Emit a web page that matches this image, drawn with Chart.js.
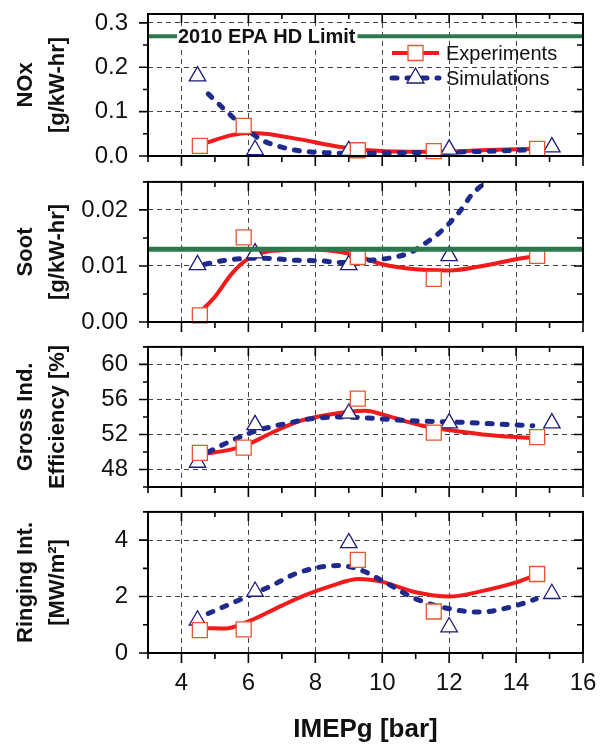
<!DOCTYPE html>
<html>
<head>
<meta charset="utf-8">
<script src="https://cdn.jsdelivr.net/npm/chart.js@4.4.0/dist/chart.umd.min.js"></script>
<style>
  body { margin: 0; background: #fff; }
  #wrap { position: relative; width: 614px; height: 756px; }
  canvas { position: absolute; left: 0; }
</style>
</head>
<body>
<div id="wrap">
  <canvas id="nox" width="614" height="170" style="top:0px"></canvas>
  <canvas id="soot" width="614" height="165" style="top:170px"></canvas>
  <canvas id="eff" width="614" height="165" style="top:335px"></canvas>
  <canvas id="ring" width="614" height="256" style="top:500px"></canvas>
</div>
<script>
// shared x axis (IMEPg, bar)
var xTicks = [4, 6, 8, 10, 12, 14, 16];
var xMinor = [3, 5, 7, 9, 11, 13, 15];
var expX = [4.55, 5.86, 9.27, 11.54, 14.63];
var simX = [4.48, 6.2, 9.0, 12.0, 15.07];

// NOx [g/kW-hr]
var noxTicks = [0, 0.1, 0.2, 0.3];
var noxLabels = ['0.0', '0.1', '0.2', '0.3'];
var noxMinor = [0.05, 0.15, 0.25];
var noxExp = [0.023, 0.068, 0.013, 0.011, 0.016];
var noxSim = [0.18, 0.014, 0.012, 0.015, 0.02];
var noxExpFitX = [4.7, 5.5, 6, 6.5, 7.5, 8.7, 9.5, 10.7, 11.7, 13.2, 14.4];
var noxExpFit = [0.029, 0.047, 0.052, 0.05, 0.038, 0.021, 0.0135, 0.0098, 0.0098, 0.0135, 0.0158];
var noxSimFitX = [4.8, 5.3, 5.9, 6.4, 7.0, 7.5, 8.3, 9.5, 10.7, 12.7, 14.2, 14.8];
var noxSimFit = [0.14, 0.104, 0.063, 0.036, 0.02, 0.012, 0.0075, 0.006, 0.0075, 0.0098, 0.0135, 0.015];
var noxLimit = 0.27;

// Soot [g/kW-hr]
var sootTicks = [0, 0.01, 0.02];
var sootLabels = ['0.00', '0.01', '0.02'];
var sootMinor = [0.005, 0.015, 0.025];
var sootExp = [0.0012, 0.0151, 0.0116, 0.0077, 0.0118];
var sootSimX = [4.48, 6.2, 9.0, 12.0];
var sootSim = [0.0102, 0.0123, 0.0102, 0.0118];
var sootExpFitX = [4.6, 5, 5.5, 6, 6.5, 7, 7.7, 9.1, 10, 11, 12, 13, 14, 14.6];
var sootExpFit = [0.002, 0.0045, 0.0086, 0.0113, 0.0125, 0.0128, 0.013, 0.0121, 0.0103, 0.0094, 0.0092, 0.0100, 0.0112, 0.0118];
var sootSimFitX = [4.7, 5.3, 6.3, 7.5, 8.2, 8.7, 9.6, 10.2, 10.8, 11.3, 11.8, 12.3, 12.7, 13.0];
var sootSimFit = [0.0103, 0.011, 0.0114, 0.011, 0.0109, 0.0106, 0.011, 0.0114, 0.0123, 0.0141, 0.0164, 0.0196, 0.0229, 0.0245];
var sootLimit = 0.013;

// Gross indicated efficiency [%]
var effTicks = [48, 52, 56, 60];
var effLabels = ['48', '52', '56', '60'];
var effMinor = [46, 50, 54, 58, 62];
var effExp = [49.9, 50.5, 56.1, 52.2, 51.7];
var effSim = [48.8, 53.1, 54.4, 53.3, 53.3];
var effExpFitX = [4.7, 5.5, 6, 6.7, 7.5, 8.3, 9, 9.5, 10, 10.7, 11.2, 12, 13, 14, 14.5];
var effExpFit = [49.8, 50.3, 50.9, 52.2, 53.5, 54.2, 54.6, 54.7, 54.3, 53.5, 53.0, 52.5, 52.0, 51.7, 51.6];
var effSimFitX = [4.8, 5.5, 6, 6.7, 7.2, 7.7, 8.7, 9.7, 10.7, 12.3, 13.4, 14.5];
var effSimFit = [50.0, 51.3, 52.1, 52.9, 53.3, 53.7, 54.0, 53.85, 53.6, 53.4, 53.2, 53.0];

// Ringing intensity [MW/m2]
var ringTicks = [0, 2, 4];
var ringLabels = ['0', '2', '4'];
var ringMinor = [1, 3, 5];
var ringExp = [0.81, 0.84, 3.3, 1.47, 2.8];
var ringSim = [1.16, 2.18, 3.9, 0.92, 2.1];
var ringExpFitX = [4.7, 5.3, 6, 7, 7.7, 8.5, 9.3, 10, 11, 12, 13, 14, 14.5];
var ringExpFit = [0.88, 0.87, 1.12, 1.68, 2.05, 2.39, 2.62, 2.52, 2.15, 2.0, 2.2, 2.5, 2.72];
var ringSimFitX = [4.8, 5.5, 6.7, 7.5, 8.7, 9.3, 10, 11, 12, 12.9, 14, 14.6];
var ringSimFit = [1.4, 1.76, 2.39, 2.85, 3.1, 2.97, 2.56, 1.92, 1.57, 1.45, 1.68, 1.92];

var RED = '#f21a1a', SQ = '#e4572e', BLUE = '#1e2a8c', TRI = '#1c1c7a', GREEN = '#2b7a4f';
var FONT = "'Liberation Sans', Arial, Helvetica, sans-serif";
Chart.defaults.font.family = FONT;
Chart.defaults.color = '#111';

function pts(xs, ys) {
  return xs.map(function(x, i) { return {x: x, y: ys[i]}; });
}

/* frame box + tick marks (outward left/bottom, inward top/right) */
var framePlugin = {
  id: 'frame',
  afterDraw: function(chart) {
    var o = chart.options.plugins.frame;
    var ctx = chart.ctx, a = chart.chartArea;
    var xs = chart.scales.x, ys = chart.scales.y;
    ctx.save();
    ctx.strokeStyle = '#000';
    ctx.lineWidth = 1.6;
    ctx.beginPath();
    xTicks.concat(xMinor).forEach(function(v) {
      var px = xs.getPixelForValue(v), major = xTicks.indexOf(v) >= 0;
      ctx.moveTo(px, a.bottom); ctx.lineTo(px, a.bottom + (major ? 10 : 6));
      ctx.moveTo(px, a.top); ctx.lineTo(px, a.top + (major ? 9 : 5));
    });
    o.major.concat(o.minor).forEach(function(v) {
      var py = ys.getPixelForValue(v), major = o.major.indexOf(v) >= 0;
      ctx.moveTo(a.left, py); ctx.lineTo(a.left - (major ? 9 : 5), py);
      ctx.moveTo(a.right, py); ctx.lineTo(a.right - (major ? 9 : 6), py);
    });
    ctx.stroke();
    ctx.lineWidth = 2;
    ctx.strokeRect(a.left, a.top, a.right - a.left, a.bottom - a.top);
    ctx.restore();
  }
};

/* legend and the EPA limit label, only on the NOx panel */
var notesPlugin = {
  id: 'notes',
  afterDatasetsDraw: function(chart) {
    var o = chart.options.plugins.notes;
    if (!o || !o.show) return;
    var ctx = chart.ctx, a = chart.chartArea, ys = chart.scales.y;
    ctx.save();
    // 2010 EPA HD Limit
    ctx.font = 'bold 20px ' + FONT;
    var txt = '2010 EPA HD Limit', tx = a.left + 30, ty = ys.getPixelForValue(noxLimit);
    var tw = ctx.measureText(txt).width;
    ctx.fillStyle = '#fff';
    ctx.fillRect(tx - 1, ty - 10, tw + 3, 20);
    ctx.fillStyle = '#111';
    ctx.textBaseline = 'middle';
    ctx.fillText(txt, tx, ty + 1);

    // legend
    var x0 = a.right - 193;
    ctx.font = '20px ' + FONT;
    o.items.forEach(function(it, i) {
      var y = a.top + 39 + i * 25;
      ctx.strokeStyle = it.color;
      ctx.lineWidth = it.width;
      ctx.lineCap = it.dash ? 'round' : 'butt';
      ctx.setLineDash(it.dash || []);
      ctx.beginPath(); ctx.moveTo(x0 + 2, y); ctx.lineTo(x0 + 49, y); ctx.stroke();
      ctx.setLineDash([]);
      ctx.fillStyle = '#fff';
      ctx.strokeStyle = it.mark;
      ctx.lineWidth = 1.3;
      ctx.beginPath();
      if (it.style == 'rect') {
        ctx.rect(x0 + 18, y - 7.5, 15, 15);
      } else {
        ctx.moveTo(x0 + 25.5, y - 10);
        ctx.lineTo(x0 + 25.5 + 8.5, y + 5);
        ctx.lineTo(x0 + 25.5 - 8.5, y + 5);
        ctx.closePath();
      }
      ctx.fill(); ctx.stroke();
      ctx.fillStyle = '#111';
      ctx.fillText(it.label, x0 + 56, y + 1);
    });
    ctx.restore();
  }
};

function makePanel(o) {
  var datasets = [
    {label: 'Exp fit', data: pts(o.expFitX, o.expFit), showLine: true, pointRadius: 0,
     borderColor: RED, borderWidth: 4, cubicInterpolationMode: 'monotone', order: 3},
    {label: 'Sim fit', data: pts(o.simFitX, o.simFit), showLine: true, pointRadius: 0,
     borderColor: BLUE, borderWidth: 5, borderDash: [5, 10], borderCapStyle: 'round',
     cubicInterpolationMode: 'monotone', order: 2},
    {label: 'Experiments', data: pts(expX, o.exp), pointStyle: 'rect', pointRadius: 10.6,
     pointBorderColor: SQ, pointBackgroundColor: '#fff', pointBorderWidth: 1.3, clip: false, order: 1},
    {label: 'Simulations', data: pts(o.simX || simX, o.sim), pointStyle: 'triangle', pointRadius: 9.5,
     pointBorderColor: TRI, pointBackgroundColor: '#fff', pointBorderWidth: 1.3, clip: false, order: 1}
  ];
  if (o.limit !== undefined) {
    datasets.push({label: 'Limit', data: pts([3, 16], [o.limit, o.limit]), showLine: true, pointRadius: 0,
      borderColor: GREEN, borderWidth: o.limitWidth, order: 0});
  }

  return new Chart(document.getElementById(o.id), {
    type: 'scatter',
    data: {datasets: datasets},
    options: {
      responsive: false,
      animation: false,
      events: [],
      layout: {padding: {top: o.padTop, right: 31, bottom: 0, left: 0}},
      plugins: {
        legend: {display: false},
        tooltip: {enabled: false},
        frame: {major: o.ticks, minor: o.minor},
        notes: {show: !!o.legend, items: o.legend || []}
      },
      scales: {
        x: {
          type: 'linear', min: 3, max: 16,
          afterBuildTicks: function(s) { s.ticks = xTicks.map(function(v) { return {value: v}; }); },
          afterFit: function(s) { s.height = o.xHeight; s.paddingLeft = 0; s.paddingRight = 0; },
          grid: {color: '#444', lineWidth: 1, drawTicks: false},
          border: {display: false, dash: [5, 4]},
          ticks: {display: !!o.showX, font: {size: 24}, color: '#111', padding: 16, maxRotation: 0},
          title: {display: !!o.showX, text: 'IMEPg [bar]', color: '#111',
                  font: {size: 26, weight: 'bold'}, padding: {top: 0, bottom: 11}}
        },
        y: {
          type: 'linear', min: o.min, max: o.max,
          afterBuildTicks: function(s) { s.ticks = o.ticks.map(function(v) { return {value: v}; }); },
          afterFit: function(s) { s.width = 148; s.paddingTop = 0; s.paddingBottom = 0; },
          grid: {color: '#444', lineWidth: 1, drawTicks: false},
          border: {display: false, dash: [5, 4]},
          ticks: {font: {size: 24}, color: '#111', padding: 20,
                  callback: function(v, i) { return o.labels[i]; }},
          title: {display: true, text: o.title, color: '#111',
                  font: {size: 22, weight: 'bold', lineHeight: 1.45}, padding: {top: 10, bottom: 0}}
        }
      }
    },
    plugins: [notesPlugin, framePlugin]
  });
}

makePanel({
  id: 'nox', padTop: 14, xHeight: 14, min: 0, max: 0.32,
  ticks: noxTicks, labels: noxLabels, minor: noxMinor, title: ['NOx', '[g/kW-hr]'],
  exp: noxExp, sim: noxSim, expFitX: noxExpFitX, expFit: noxExpFit, simFitX: noxSimFitX, simFit: noxSimFit,
  limit: noxLimit, limitWidth: 4,
  legend: [
    {label: 'Experiments', color: RED, width: 4, mark: SQ, style: 'rect'},
    {label: 'Simulations', color: BLUE, width: 5, dash: [5, 10], mark: TRI, style: 'triangle'}
  ]
});

makePanel({
  id: 'soot', padTop: 10, xHeight: 13, min: 0, max: 0.025,
  ticks: sootTicks, labels: sootLabels, minor: sootMinor, title: ['Soot', '[g/kW-hr]'],
  exp: sootExp, sim: sootSim, simX: sootSimX, expFitX: sootExpFitX, expFit: sootExpFit,
  simFitX: sootSimFitX, simFit: sootSimFit, limit: sootLimit, limitWidth: 5
});

makePanel({
  id: 'eff', padTop: 10, xHeight: 13, min: 46, max: 62,
  ticks: effTicks, labels: effLabels, minor: effMinor, title: ['Gross Ind.', 'Efficiency [%]'],
  exp: effExp, sim: effSim, expFitX: effExpFitX, expFit: effExpFit, simFitX: effSimFitX, simFit: effSimFit
});

makePanel({
  id: 'ring', padTop: 11, xHeight: 103, min: 0, max: 5, showX: true,
  ticks: ringTicks, labels: ringLabels, minor: ringMinor, title: ['Ringing Int.', '[MW/m\u00b2]'],
  exp: ringExp, sim: ringSim, expFitX: ringExpFitX, expFit: ringExpFit, simFitX: ringSimFitX, simFit: ringSimFit
});
</script>
</body>
</html>
